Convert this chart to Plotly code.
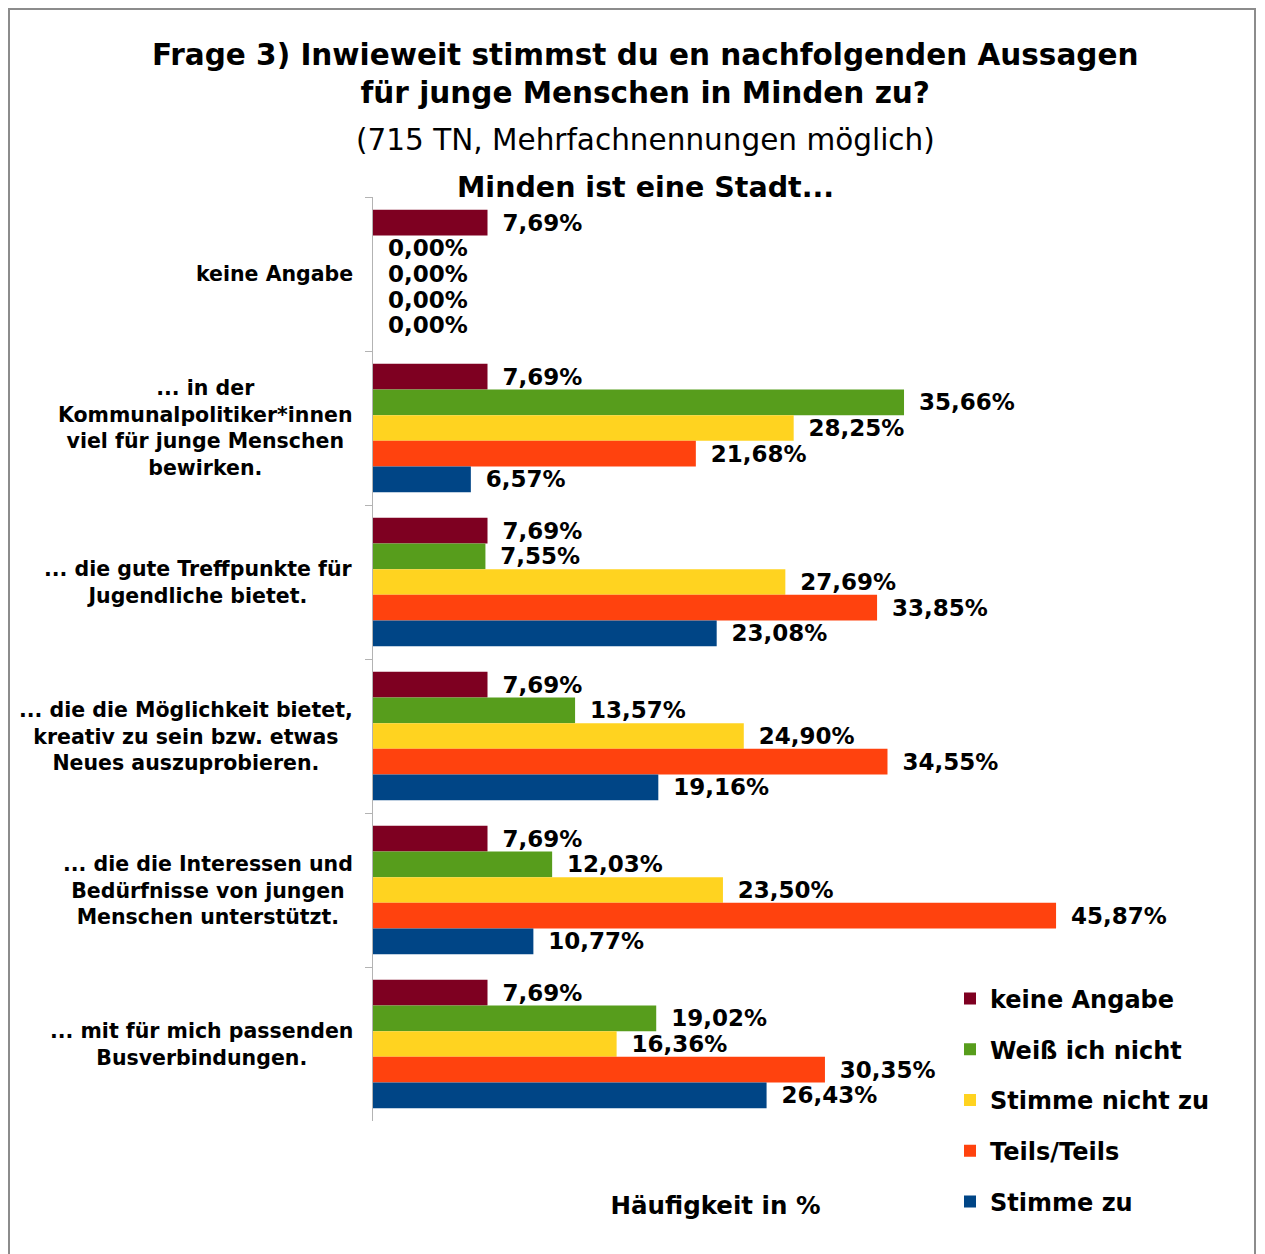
import plotly.graph_objects as go

categories = [
    "keine Angabe",
    "... in der<br>Kommunalpolitiker*innen<br>viel für junge Menschen<br>bewirken.",
    "... die gute Treffpunkte für<br>Jugendliche bietet.",
    "... die die Möglichkeit bietet,<br>kreativ zu sein bzw. etwas<br>Neues auszuprobieren.",
    "... die die Interessen und<br>Bedürfnisse von jungen<br>Menschen unterstützt.",
    "... mit für mich passenden<br>Busverbindungen.",
]
series_names = ["keine Angabe", "Weiß ich nicht", "Stimme nicht zu", "Teils/Teils", "Stimme zu"]
keine_angabe = [7.69, 7.69, 7.69, 7.69, 7.69, 7.69]
weiss_ich_nicht = [0.00, 35.66, 7.55, 13.57, 12.03, 19.02]
stimme_nicht_zu = [0.00, 28.25, 27.69, 24.90, 23.50, 16.36]
teils_teils = [0.00, 21.68, 33.85, 34.55, 45.87, 30.35]
stimme_zu = [0.00, 6.57, 23.08, 19.16, 10.77, 26.43]
series_values = [keine_angabe, weiss_ich_nicht, stimme_nicht_zu, teils_teils, stimme_zu]
colors = ["#7e0021", "#579d1c", "#ffd320", "#ff420e", "#004586"]

FONT = "DejaVu Sans"
OFF = 8  # page body margin
SW, SH = 1265, 1254
W, H = SW - OFF, SH - OFF
L, R_PX, T, B_PX = 373, 1058, 197, 1121  # plot area in screen pixels
PW, PH = R_PX - L, B_PX - T

def px(xp):
    return (xp - L) / PW

def py(yp):
    return (B_PX - yp) / PH

fig = go.Figure()
for name, vals, col in zip(series_names, series_values, colors):
    fig.add_trace(go.Bar(
        y=categories, x=vals, name=name, orientation="h",
        marker=dict(color=col, line=dict(width=0)),
        texttemplate="\u00a0\u2009<b>%{x:.2f}%</b>",
        textposition="outside", constraintext="none", cliponaxis=False,
        textfont=dict(family=FONT, size=23, color="black"),
        legendgroup=name,
        hoverinfo="skip",
    ))

annotations = [
    dict(text="<b>Frage 3) Inwieweit stimmst du en nachfolgenden Aussagen<br>für junge Menschen in Minden zu?</b>",
         xref="paper", yref="paper", x=px(645), y=py(74), xanchor="center", yanchor="middle",
         showarrow=False, font=dict(family=FONT, size=29.5, color="black"), align="center"),
    dict(text="(715 TN, Mehrfachnennungen möglich)",
         xref="paper", yref="paper", x=px(645), y=py(140), xanchor="center", yanchor="middle",
         showarrow=False, font=dict(family=FONT, size=29.5, color="black")),
    dict(text="<b>Minden ist eine Stadt...</b>",
         xref="paper", yref="paper", x=px(645), y=py(188), xanchor="center", yanchor="middle",
         showarrow=False, font=dict(family=FONT, size=28.5, color="black")),
]
for c in categories:
    annotations.append(dict(
        text="<b>" + c + "</b>", xref="x", yref="y", x=0, y=c, xshift=-18,
        xanchor="right", yanchor="middle", align="center", showarrow=False,
        font=dict(family=FONT, size=20.5, color="black")))

fig.update_layout(
    width=W, height=H,
    margin=dict(l=L - OFF, r=(OFF + W) - R_PX, t=T - OFF, b=(OFF + H) - B_PX, pad=0),
    paper_bgcolor="white", plot_bgcolor="white",
    barmode="group", bargap=0.165, bargroupgap=0,
    separators=",.",
    showlegend=True,
    legend=dict(x=px(950), y=py(976.5), xanchor="left", yanchor="top",
                font=dict(family=FONT, size=24, color="black", weight="bold"),
                traceorder="grouped", tracegroupgap=16.5, itemwidth=30,
                bgcolor="rgba(0,0,0,0)"),
    annotations=annotations,
    shapes=[dict(type="rect", xref="paper", yref="paper",
                 x0=px(9), x1=px(1255), y0=py(1275), y1=py(9),
                 line=dict(color="#8c8c8c", width=2), fillcolor="rgba(0,0,0,0)", layer="above")],
    font=dict(family=FONT),
)
fig.update_xaxes(range=[0, 46], showticklabels=False, showgrid=False, zeroline=False,
                 showline=False, ticks="",
                 title=dict(text="<b>Häufigkeit in %</b>", font=dict(family=FONT, size=24.5, color="black"),
                            standoff=75))
fig.update_yaxes(autorange="reversed", showticklabels=False, showgrid=False, zeroline=False,
                 showline=True, linecolor="#b3b3b3", linewidth=1,
                 ticks="outside", tickson="boundaries", ticklen=7, tickcolor="#b3b3b3", tickwidth=1)

fig.write_html("out.html")
